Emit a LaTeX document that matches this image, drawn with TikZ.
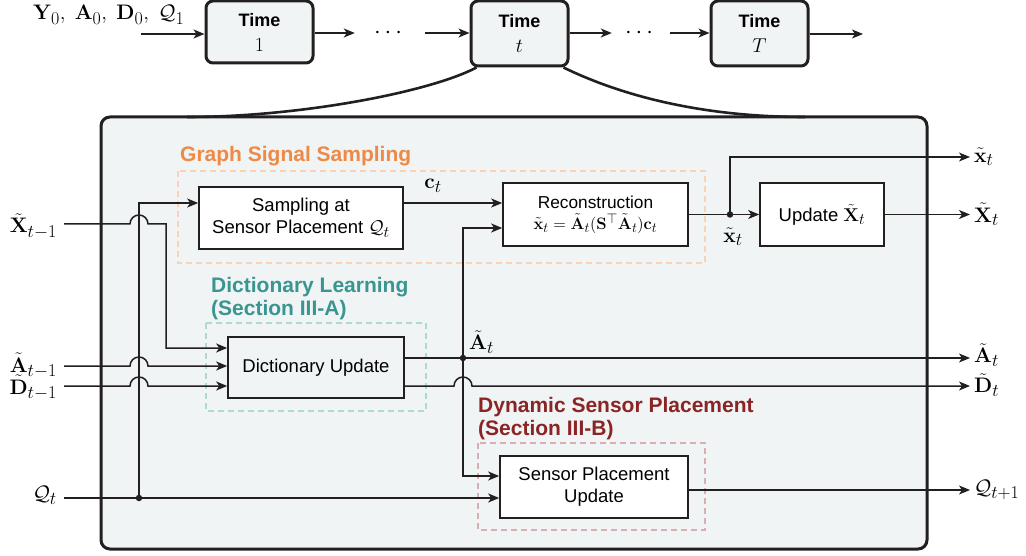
\RequirePackage{fix-cm}
\documentclass[tikz,border=0pt]{standalone}
\usepackage[no-math]{fontspec}
\setsansfont{Liberation Sans}
\usepackage{amsmath,amssymb}
\usetikzlibrary{arrows.meta,calc}
\DeclareMathSizes{21}{21}{18}{14}
\DeclareMathSizes{20}{20}{17}{14}
\DeclareMathSizes{18.5}{18.5}{16}{13}
\DeclareMathSizes{16.5}{16.5}{14}{11}
\definecolor{bg}{HTML}{F0F4F5}
\definecolor{ln}{HTML}{231F20}
\definecolor{gssc}{HTML}{EE8A45}
\definecolor{gssd}{HTML}{FAD2B6}
\definecolor{dlc}{HTML}{3A9590}
\definecolor{dld}{HTML}{AED8D5}
\definecolor{dspc}{HTML}{8B2525}
\definecolor{dspd}{HTML}{D9AFB3}
\begin{document}
\begin{tikzpicture}[x=1pt,y=-1pt,
  conn/.style={draw=ln,line width=1.5pt},
  arr/.style={conn,-{Stealth[length=11pt,width=9pt,inset=3pt]}},
  blk/.style={draw=ln,line width=1.6pt,fill=white,align=center,inner sep=0pt,
    font=\sffamily\fontsize{18.5}{22}\selectfont},
  timebox/.style={draw=ln,line width=3pt,fill=bg,rounded corners=7pt,align=center,inner sep=0pt,
    font=\fontsize{20}{25}\selectfont},
  jdot/.style={circle,fill=ln,inner sep=0pt,minimum size=6.5pt},
  lbl/.style={inner sep=2pt,font=\fontsize{21}{23}\selectfont},
  ttl/.style={inner sep=0pt,anchor=west,align=left,font=\sffamily\bfseries\fontsize{21}{23}\selectfont},
  grp/.style={dash pattern=on 6pt off 4pt, line width=2.6pt},
]
\useasboundingbox (0,0) rectangle (1026,556);

% ---------- main box ----------
\node[draw=ln,line width=3pt,fill=bg,rounded corners=9pt,minimum width=826pt,minimum height=432pt,inner sep=0pt]
  (main) at (514,333) {};

% ---------- top row ----------
\node[timebox,minimum width=107pt,minimum height=62pt] (time1) at (259.5,32)
  {{\sffamily\bfseries\fontsize{18}{25}\selectfont Time}\\$1$};
\node[timebox,minimum width=97pt,minimum height=65pt] (timet) at (519.5,33.5)
  {{\sffamily\bfseries\fontsize{18}{25}\selectfont Time}\\$t$};
\node[timebox,minimum width=97pt,minimum height=65pt] (timeT) at (759.5,33.5)
  {{\sffamily\bfseries\fontsize{18}{25}\selectfont Time}\\$T$};
\node[lbl,anchor=base west,inner sep=0pt] (init) at (33,20)
  {$\mathbf{Y}_0,\;\mathbf{A}_0,\;\mathbf{D}_0,\;\mathcal{Q}_1$};
\coordinate (istart) at (141,34);
\node[inner sep=0pt,minimum width=70pt,minimum height=20pt,font=\fontsize{24}{26}\selectfont] (dots1) at (390,33) {$\cdots$};
\node[inner sep=0pt,minimum width=58pt,minimum height=20pt,font=\fontsize{24}{26}\selectfont] (dots2) at (641,33) {$\cdots$};
\coordinate (tend) at (863,34);
\draw[arr] (istart) -- (istart -| time1.west);
\draw[arr] (time1.east |- dots1) -- (dots1.west);
\draw[arr] (dots1.east) -- (dots1 -| timet.west);
\draw[arr] (timet.east |- dots2) -- (dots2.west);
\draw[arr] (dots2.east) -- (dots2 -| timeT.west);
\draw[arr] (timeT.east |- tend) -- (tend);

% zoom curves
\coordinate (mL) at (187,117);
\coordinate (mR) at (805,117);
\draw[draw=ln,line width=2.6pt] ($(timet.south west)+(7,0)$) .. controls (430,92) and (300,117) .. (mL);
\draw[draw=ln,line width=2.6pt] ($(timet.south east)+(-6,0)$) .. controls (620,95) and (700,117) .. (mR);

% ---------- groups ----------
\draw[grp,draw=gssd] (178,171) rectangle (705,263);
\draw[grp,draw=dld] (206,323) rectangle (426,411);
\draw[grp,draw=dspd] (478,443) rectangle (705,530);
\node[ttl,text=gssc] (tgss) at (180,156) {Graph Signal Sampling};
\node[ttl,text=dlc] (tdl) at (211,298.5) {Dictionary Learning\\(Section III-A)};
\node[ttl,text=dspc] (tdsp) at (478,418.5) {Dynamic Sensor Placement\\(Section III-B)};

% ---------- blocks ----------
\node[blk,minimum width=204pt,minimum height=62pt] (samp) at (301,218)
  {Sampling at\\Sensor Placement $\mathcal{Q}_t$};
\node[blk,minimum width=185pt,minimum height=63pt,font=\sffamily\fontsize{17.3}{22}\selectfont] (recon) at (595.5,214.5)
  {Reconstruction\\[-1pt]{\fontsize{16.5}{18}\selectfont$\tilde{\mathbf{x}}_t=\tilde{\mathbf{A}}_t(\mathbf{S}^{\top}\tilde{\mathbf{A}}_t)\mathbf{c}_t$}};
\node[blk,minimum width=124pt,minimum height=63pt] (upd) at (822,214.5)
  {Update\ $\tilde{\mathbf{X}}_t$};
\node[blk,fill=bg,minimum width=176pt,minimum height=61pt] (dict) at (316,367.5)
  {Dictionary Update};
\node[blk,minimum width=188pt,minimum height=62pt] (sens) at (594,487)
  {Sensor Placement\\Update};

% ---------- left labels ----------
\node[lbl,anchor=base east] (xin) at (59,233) {$\tilde{\mathbf{X}}_{t-1}$};
\node[lbl,anchor=base east] (ain) at (59,372) {$\tilde{\mathbf{A}}_{t-1}$};
\node[lbl,anchor=base east] (din) at (59,394) {$\tilde{\mathbf{D}}_{t-1}$};
\node[lbl,anchor=east] (qin) at (59,495) {$\mathcal{Q}_t$};
\coordinate (xs) at (64,224);
\coordinate (as) at (64,366);
\coordinate (ds) at (64,386);
\coordinate (qs) at (64,498);

% ---------- right labels ----------
\node[lbl,anchor=west] (xout) at (972,157) {$\tilde{\mathbf{x}}_t$};
\node[lbl,anchor=west] (Xout) at (972,214.5) {$\tilde{\mathbf{X}}_t$};
\node[lbl,anchor=west] (aout) at (972,355) {$\tilde{\mathbf{A}}_t$};
\node[lbl,anchor=west] (dout) at (972,385) {$\tilde{\mathbf{D}}_t$};
\node[lbl,anchor=west] (qout) at (972,490) {$\mathcal{Q}_{t+1}$};

% ---------- junctions ----------
\node[jdot] (jq) at (139,498) {};
\node[jdot] (ja) at (463,358) {};
\node[jdot] (jx) at (730,214.5) {};
\node[lbl,anchor=center] (lct) at (433,186) {$\mathbf{c}_t$};
\node[lbl,anchor=west] (lat) at (467,342) {$\tilde{\mathbf{A}}_t$};
\node[lbl,anchor=center] (lxt) at (733,237) {$\tilde{\mathbf{x}}_t$};

% ---------- connectors ----------
\draw[arr] (qs) -- ($(sens.west)+(0,11)$);
\draw[arr] (jq.center) |- ($(samp.west)+(0,-15)$);
\draw[arr] (xs) -- (130,224) arc[start angle=180,end angle=0,radius=9pt] -- (166,224) |- ($(dict.west)+(0,-19.5)$);
\draw[arr] (as) -- (130,366) arc[start angle=180,end angle=0,radius=9pt] -- ($(dict.west)+(0,-1.5)$);
\draw[arr] (ds) -- (130,386) arc[start angle=180,end angle=0,radius=9pt] -- ($(dict.west)+(0,18.5)$);

\draw[arr] ($(samp.east)+(0,-15)$) -- ($(recon.west)+(0,-11.5)$);
\draw[arr] (ja.center) |- ($(recon.west)+(0,13.5)$);
\draw[arr] (ja.center) |- ($(sens.west)+(0,-11)$);
\draw[arr] ($(dict.east)+(0,-9.5)$) -- ($(aout.west)+(-2,3)$);
\draw[arr] ($(dict.east)+(0,18.5)$) -- (454,386) arc[start angle=180,end angle=0,radius=9pt] -- ($(dout.west)+(-2,1)$);

\draw[arr] (recon.east) -- (upd.west);
\draw[arr] (jx.center) |- ($(xout.west)+(-2,0)$);
\draw[arr] (upd.east) -- ($(Xout.west)+(-2,0)$);
\draw[arr] ($(sens.east)+(0,3)$) -- ($(qout.west)+(-2,0)$);
\end{tikzpicture}
\end{document}
